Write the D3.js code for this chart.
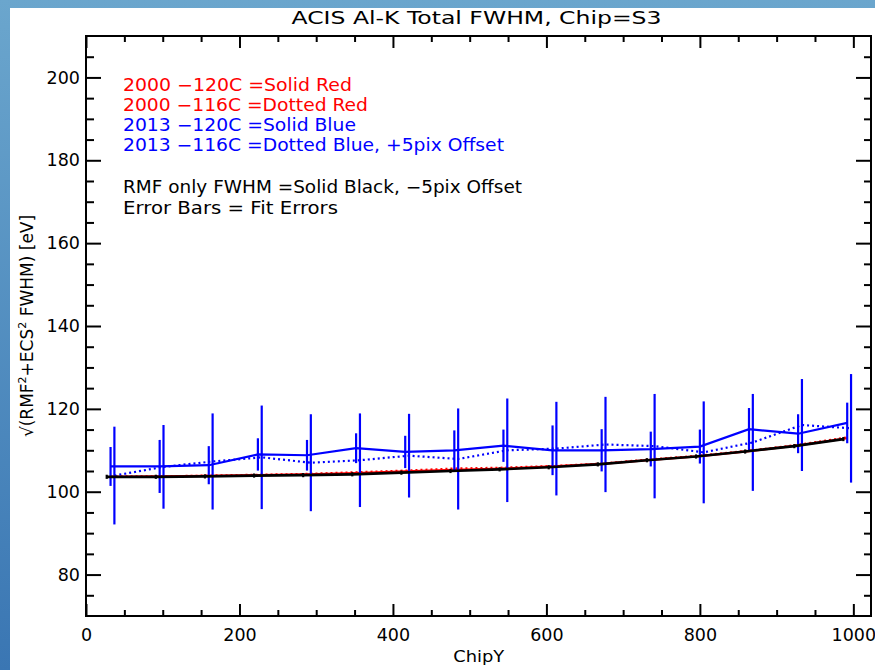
<!DOCTYPE html>
<html>
<head>
<meta charset="utf-8">
<script src="https://cdn.jsdelivr.net/npm/d3@7"></script>
<style>
  html, body { margin: 0; padding: 0; background: #fff; }
  svg text { font-family: "DejaVu Sans", sans-serif; }
</style>
</head>
<body>
<div id="box"></div>
<script>
'use strict';

// ChipY bin centres (error bars sit at these, dotted blue +5, black -5)
var chipY = [32, 96, 160, 224, 288, 352, 416, 480, 544, 608, 672, 736, 800, 864, 928, 992];

var red120 = [103.6, 103.7, 103.8, 104.0, 104.2, 104.5, 104.9, 105.3, 105.6, 106.1, 106.7, 107.7, 108.6, 109.8, 111.2, 112.9];
var red116 = [103.7, 103.7, 103.9, 104.1, 104.3, 104.7, 105.1, 105.6, 105.8, 106.2, 106.8, 107.8, 108.7, 109.9, 111.3, 113.1];

var blue120 = [106.1, 106.1, 106.4, 109.0, 108.8, 110.5, 109.6, 110.0, 111.1, 110.0, 110.0, 110.3, 110.9, 115.1, 114.0, 116.6];
var blue120Err = [4.7, 6.4, 4.6, 3.9, 3.7, 3.6, 3.9, 4.8, 3.9, 6.0, 5.1, 4.2, 4.1, 5.1, 4.7, 4.9];

var blue116 = [103.9, 106.0, 107.3, 108.3, 107.0, 107.6, 108.7, 107.9, 110.0, 110.4, 111.4, 111.0, 109.5, 111.9, 116.1, 115.3];
var blue116Err = [11.8, 10.1, 11.6, 12.5, 11.7, 11.3, 10.1, 12.2, 12.5, 11.3, 11.5, 12.6, 12.3, 11.7, 11.1, 13.1];

var rmfOnly = [103.6, 103.6, 103.7, 103.9, 104.0, 104.2, 104.6, 105.0, 105.4, 105.9, 106.6, 107.6, 108.5, 109.7, 111.0, 112.7];
var rmfErr = [0.5, 0.5, 0.5, 0.5, 0.5, 0.5, 0.5, 0.5, 0.5, 0.5, 0.5, 0.5, 0.5, 0.5, 0.5, 0.5];

var xMajor = [0, 200, 400, 600, 800, 1000];
var xMinor = [50, 100, 150, 250, 300, 350, 450, 500, 550, 650, 700, 750, 850, 900, 950];
var yMajor = [80, 100, 120, 140, 160, 180, 200];
var yMinor = [75, 85, 90, 95, 105, 110, 115, 125, 130, 135, 145, 150, 155, 165, 170, 175, 185, 190, 195, 205];

var legendText = ["2000 \u2212120C =Solid Red", "2000 \u2212116C =Dotted Red", "2013 \u2212120C =Solid Blue",
                  "2013 \u2212116C =Dotted Blue, +5pix Offset", "RMF only FWHM =Solid Black, \u22125pix Offset",
                  "Error Bars = Fit Errors"];
var legendColor = ["#ff0000", "#ff0000", "#0000ff", "#0000ff", "#000000", "#000000"];

var W = 875, H = 670;
var pLeft = 86, pRight = 871, pTop = 36, pBottom = 616;

var svg = d3.select("#box").append("svg")
    .attr("width", W)
    .attr("height", H);

// blue window border
var grad = svg.append("defs").append("linearGradient")
    .attr("id", "bg").attr("x1", 0).attr("y1", 0).attr("x2", 0).attr("y2", 1);
grad.append("stop").attr("offset", "0").attr("stop-color", "#6ba6cd");
grad.append("stop").attr("offset", "1").attr("stop-color", "#3a76b3");
svg.append("rect").attr("width", W).attr("height", H).attr("fill", "url(#bg)");
svg.append("rect").attr("x", 10).attr("y", 8).attr("width", W - 10).attr("height", H - 8).attr("fill", "#fff");

var x = d3.scaleLinear().domain([0, 1023]).range([pLeft, pRight]);
var y = d3.scaleLinear().domain([70, 210]).range([pBottom, pTop]);

// axes: major + minor, ticks on all four sides pointing inwards
function styleAxis(g) {
    g.select(".domain").remove();
    g.selectAll(".tick line").attr("stroke", "#000").attr("stroke-width", 2);
    g.selectAll(".tick text").attr("fill", "#000").style("font-size", "17.5px");
}
svg.append("g").attr("transform", "translate(0," + pBottom + ")")
    .call(d3.axisBottom(x).tickValues(xMajor).tickSize(-12).tickPadding(13).tickFormat(d3.format("d")))
    .call(styleAxis);
svg.append("g").attr("transform", "translate(0," + pBottom + ")")
    .call(d3.axisBottom(x).tickValues(xMinor).tickSize(-6).tickFormat(""))
    .call(styleAxis);
svg.append("g").attr("transform", "translate(0," + pTop + ")")
    .call(d3.axisTop(x).tickValues(xMajor).tickSize(-12).tickFormat(""))
    .call(styleAxis);
svg.append("g").attr("transform", "translate(0," + pTop + ")")
    .call(d3.axisTop(x).tickValues(xMinor).tickSize(-6).tickFormat(""))
    .call(styleAxis);
svg.append("g").attr("transform", "translate(" + pLeft + ",0)")
    .call(d3.axisLeft(y).tickValues(yMajor).tickSize(-15).tickPadding(6).tickFormat(d3.format("d")))
    .call(styleAxis);
svg.append("g").attr("transform", "translate(" + pLeft + ",0)")
    .call(d3.axisLeft(y).tickValues(yMinor).tickSize(-8).tickFormat(""))
    .call(styleAxis);
svg.append("g").attr("transform", "translate(" + pRight + ",0)")
    .call(d3.axisRight(y).tickValues(yMajor).tickSize(-15).tickFormat(""))
    .call(styleAxis);
svg.append("g").attr("transform", "translate(" + pRight + ",0)")
    .call(d3.axisRight(y).tickValues(yMinor).tickSize(-7).tickFormat(""))
    .call(styleAxis);

svg.append("rect")
    .attr("x", pLeft).attr("y", pTop)
    .attr("width", pRight - pLeft).attr("height", pBottom - pTop)
    .attr("fill", "none").attr("stroke", "#000").attr("stroke-width", 2);

// series
function drawSeries(vals, errs, offset, color, dash, width) {
    var pts = chipY.map(function(c, i) { return { c: c + offset, v: vals[i], e: errs ? errs[i] : 0 }; });
    svg.append("path")
      .datum(pts)
      .attr("fill", "none")
      .attr("stroke", color)
      .attr("stroke-width", width)
      .attr("stroke-dasharray", dash)
      .attr("d", d3.line()
        .x(function(d) { return x(d.c); })
        .y(function(d) { return y(d.v); }));
    if (errs) {
      svg.append("g").selectAll("line")
        .data(pts).enter().append("line")
        .attr("x1", function(d) { return x(d.c); })
        .attr("x2", function(d) { return x(d.c); })
        .attr("y1", function(d) { return y(d.v - d.e); })
        .attr("y2", function(d) { return y(d.v + d.e); })
        .attr("stroke", color)
        .attr("stroke-width", 2.2);
    }
}
drawSeries(red120, null, 0, "#ff0000", null, 2.2);
drawSeries(red116, null, 0, "#ff0000", "2,3", 2.2);
drawSeries(blue120, blue120Err, 0, "#0000ff", null, 2.2);
drawSeries(blue116, blue116Err, 5, "#0000ff", "2,3", 2.2);
drawSeries(rmfOnly, rmfErr, -5, "#000000", null, 2.7);

// legend text block
var legendY = [90.7, 110.9, 131.1, 151.3, 193.3, 213.5];
var legendLen = [229, 245, 233, 381, 399, 215];
svg.append("g").selectAll("text")
    .data(legendText).enter().append("text")
    .attr("x", 123)
    .attr("y", function(d, i) { return legendY[i]; })
    .attr("fill", function(d, i) { return legendColor[i]; })
    .attr("textLength", function(d, i) { return legendLen[i]; })
    .attr("lengthAdjust", "spacingAndGlyphs")
    .style("font-size", "17px")
    .text(function(d) { return d; });

// titles
svg.append("text")
    .attr("x", 476.5).attr("y", 24.3)
    .attr("text-anchor", "middle")
    .attr("textLength", 370).attr("lengthAdjust", "spacingAndGlyphs")
    .style("font-size", "17.5px")
    .text("ACIS Al-K Total FWHM, Chip=S3");

svg.append("text")
    .attr("x", 478.7).attr("y", 661.7)
    .attr("text-anchor", "middle")
    .attr("textLength", 51).attr("lengthAdjust", "spacingAndGlyphs")
    .style("font-size", "16.5px")
    .text("ChipY");

var yl = svg.append("text")
    .attr("transform", "translate(33," + ((pTop + pBottom) / 2) + ") rotate(-90)")
    .attr("text-anchor", "middle")
    .style("font-size", "17px");
yl.append("tspan").text("\u221A(RMF");
yl.append("tspan").attr("dy", -7).style("font-size", "11px").text("2");
yl.append("tspan").attr("dy", 7).text("+ECS");
yl.append("tspan").attr("dy", -7).style("font-size", "11px").text("2");
yl.append("tspan").attr("dy", 7).text(" FWHM)  [eV]");
</script>
</body>
</html>
